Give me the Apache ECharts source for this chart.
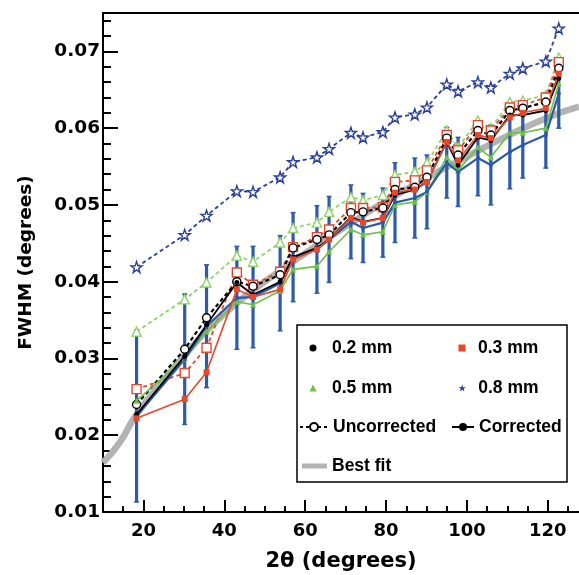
<!DOCTYPE html>
<html><head><meta charset="utf-8">
<script src="https://cdn.jsdelivr.net/npm/echarts@6/dist/echarts.min.js"></script>
<style>html,body{margin:0;padding:0;background:#fff}#c{width:579px;height:575px}</style>
</head><body><div id="c"></div>
<script>
// ---- data ----
const twoTheta = [18.3, 30.2, 35.6, 43.1, 47.1, 53.8, 57.0, 62.9, 65.9, 71.3, 74.3, 79.2, 82.2, 87.1, 90.1, 95.0, 97.8, 102.7, 105.9, 110.6, 113.8, 119.5, 122.7];
const unc08 = [0.0419, 0.0461, 0.0486, 0.0518, 0.0517, 0.0536, 0.0556, 0.0562, 0.0573, 0.0594, 0.0588, 0.0595, 0.0614, 0.0618, 0.0627, 0.0657, 0.0648, 0.0660, 0.0653, 0.0671, 0.0678, 0.0687, 0.0730];
const unc05 = [0.0335, 0.0377, 0.0399, 0.0434, 0.0426, 0.0451, 0.0470, 0.0477, 0.0491, 0.0510, 0.0506, 0.0513, 0.0539, 0.0543, 0.0555, 0.0597, 0.0575, 0.0610, 0.0600, 0.0634, 0.0636, 0.0643, 0.0692];
const unc03 = [0.0260, 0.0281, 0.0314, 0.0412, 0.0396, 0.0413, 0.0445, 0.0458, 0.0468, 0.0496, 0.0496, 0.0497, 0.0530, 0.0532, 0.0545, 0.0591, 0.0571, 0.0604, 0.0597, 0.0627, 0.0630, 0.0640, 0.0686];
const unc02 = [0.0240, 0.0312, 0.0353, 0.0400, 0.0394, 0.0409, 0.0444, 0.0455, 0.0461, 0.0490, 0.0491, 0.0496, 0.0520, 0.0523, 0.0536, 0.0587, 0.0565, 0.0597, 0.0591, 0.0623, 0.0626, 0.0634, 0.0678];
const corr02 = [0.0227, 0.0303, 0.0344, 0.0399, 0.0383, 0.0400, 0.0432, 0.0444, 0.0455, 0.0484, 0.0478, 0.0483, 0.0513, 0.0520, 0.0530, 0.0582, 0.0552, 0.0588, 0.0584, 0.0617, 0.0617, 0.0623, 0.0665];
const corr03 = [0.0222, 0.0247, 0.0282, 0.0390, 0.0380, 0.0390, 0.0429, 0.0442, 0.0455, 0.0483, 0.0477, 0.0483, 0.0516, 0.0520, 0.0530, 0.0582, 0.0558, 0.0591, 0.0587, 0.0614, 0.0620, 0.0626, 0.0671];
const corr05 = [0.0245, 0.0300, 0.0335, 0.0374, 0.0370, 0.0388, 0.0416, 0.0420, 0.0439, 0.0468, 0.0461, 0.0465, 0.0500, 0.0504, 0.0517, 0.0562, 0.0545, 0.0575, 0.0562, 0.0594, 0.0594, 0.0600, 0.0658];
const corr08 = [0.0225, 0.0299, 0.0342, 0.0379, 0.0380, 0.0398, 0.0432, 0.0442, 0.0455, 0.0478, 0.0470, 0.0477, 0.0503, 0.0509, 0.0517, 0.0555, 0.0543, 0.0561, 0.0552, 0.0569, 0.0578, 0.0591, 0.0645];
const err08 = [0.0112, 0.0085, 0.0080, 0.0067, 0.0066, 0.0062, 0.0058, 0.0057, 0.0056, 0.0048, 0.0045, 0.0045, 0.0052, 0.0052, 0.0048, 0.0046, 0.0045, 0.0049, 0.0052, 0.0048, 0.0043, 0.0043, 0.0045];
const fitX = [10, 14.2, 18, 25, 30, 36, 43, 50, 60, 70, 80, 90, 100, 110, 120, 127.7];
const fitY = [0.0164, 0.0191, 0.0225, 0.0272, 0.0303, 0.0338, 0.0372, 0.0400, 0.0437, 0.0472, 0.0505, 0.0535, 0.0563, 0.0590, 0.0614, 0.0628];
const xMajorTicks = [20, 40, 60, 80, 100, 120];
const xMinorTicks = [15, 25, 30, 35, 45, 50, 55, 65, 70, 75, 85, 90, 95, 105, 110, 115, 125];
const legendNames = ['0.2 mm', '0.3 mm', '0.5 mm', '0.8 mm', 'Uncorrected', 'Corrected', 'Best fit'];

// ---- styles ----
const BLACK = '#000', RED = '#e8472b', GREEN = '#6dbf45', LGREEN = '#8fd36a', BLUE = '#2b58a8', EBLUE = '#2f5aa6', DBLUE = '#2a3f96', GRAY = '#b3b3b3';
const STAR = 'path://M50,0 L61.8,35.1 L98.1,35.1 L68.7,56.8 L79.4,90.9 L50,69.1 L20.6,90.9 L31.3,56.8 L1.9,35.1 L38.2,35.1 Z';
const SQUARE = 'path://M0,0 L10,0 L10,10 L0,10 Z';
const TRIANGLE = 'path://M5,0 L10,10 L0,10 Z';
const AX_FONT = 'DejaVu Sans';
const LG_FONT = 'Liberation Sans';
const pts = ys => twoTheta.map((x, i) => [x, ys[i]]);

function line(name, ys, color, dashed, symbol, size, filled, width, z) {
  return {
    type: 'line', name: name, data: pts(ys), z: z || 3,
    symbol: symbol, symbolSize: size, showSymbol: true,
    lineStyle: { color: color, width: width, type: dashed ? [4, 3] : 'solid' },
    itemStyle: filled ? { color: color } : { color: '#fff', borderColor: color, borderWidth: 1.4 },
    emphasis: { disabled: true }, animation: false
  };
}

const series = [
  { type: 'line', name: 'fit', data: fitX.map((x, i) => [x, fitY[i]]), smooth: true, symbol: 'none',
    lineStyle: { color: GRAY, width: 6.5 }, z: 1, animation: false, emphasis: { disabled: true } },
  { type: 'custom', name: 'err', z: 2, animation: false,
    data: twoTheta.map((x, i) => [x, corr08[i] - err08[i], corr08[i] + err08[i]]),
    encode: { x: 0, y: [1, 2] },
    renderItem: function (params, api) {
      const x = api.value(0);
      const p1 = api.coord([x, api.value(1)]);
      const p2 = api.coord([x, api.value(2)]);
      const c = 2.5;
      return { type: 'group', children: [
        { type: 'line', shape: { x1: p1[0], y1: p1[1], x2: p2[0], y2: p2[1] }, style: { stroke: EBLUE, lineWidth: 3.2 } },
        { type: 'line', shape: { x1: p1[0] - c, y1: p1[1], x2: p1[0] + c, y2: p1[1] }, style: { stroke: EBLUE, lineWidth: 1.5 } },
        { type: 'line', shape: { x1: p2[0] - c, y1: p2[1], x2: p2[0] + c, y2: p2[1] }, style: { stroke: EBLUE, lineWidth: 1.5 } }
      ] };
    } },
  line('u05', unc05, LGREEN, true, 'triangle', 9, false, 1.8),
  line('u03', unc03, RED, true, 'rect', 9, false, 1.8),
  line('u02', unc02, BLACK, true, 'circle', 8, false, 2.2),
  line('c05', corr05, GREEN, false, 'triangle', 6, true, 1.6),
  line('c08', corr08, BLUE, false, 'circle', 4, true, 2.2),
  line('c02', corr02, BLACK, false, 'circle', 5, true, 1.8),
  line('c03', corr03, RED, false, 'rect', 6, true, 1.6),
  line('u08', unc08, DBLUE, true, STAR, 11, false, 1.8),
  // legend-only entries
  { type: 'line', name: legendNames[0], data: [], symbol: 'circle', itemStyle: { color: BLACK }, lineStyle: { color: BLACK } },
  { type: 'line', name: legendNames[1], data: [], symbol: 'rect', itemStyle: { color: RED }, lineStyle: { color: RED } },
  { type: 'line', name: legendNames[2], data: [], symbol: 'triangle', itemStyle: { color: GREEN }, lineStyle: { color: GREEN } },
  { type: 'line', name: legendNames[3], data: [], symbol: STAR, itemStyle: { color: DBLUE }, lineStyle: { color: DBLUE } },
  { type: 'line', name: legendNames[4], data: [], symbol: 'circle', itemStyle: { color: '#fff', borderColor: BLACK, borderWidth: 1.3 }, lineStyle: { color: BLACK, width: 1.3, type: [3, 3] } },
  { type: 'line', name: legendNames[5], data: [], symbol: 'circle', itemStyle: { color: BLACK }, lineStyle: { color: BLACK, width: 1.5 } },
  { type: 'line', name: legendNames[6], data: [], symbol: 'none', itemStyle: { color: GRAY }, lineStyle: { color: GRAY, width: 5 } }
];

const lgText = { fontFamily: LG_FONT, fontWeight: 'bold', fontSize: 17.5, color: '#000' };
// left = left edge of the drawn icon (legend is positioned by its bounding box)
function lg(name, left, cy, w, h, icon) {
  const d = { name: name };
  if (icon) d.icon = icon;
  return { data: [d], left: left, top: cy - 8, itemWidth: w, itemHeight: h, padding: 0,
           selectedMode: false, textStyle: lgText, z: 20, orient: 'horizontal' };
}

const axisName = { fontFamily: AX_FONT, fontWeight: 'bold', color: '#000' };
const option = {
  backgroundColor: '#fff',
  animation: false,
  grid: { left: 103, right: 0, top: 13, bottom: 63, containLabel: false, outerBoundsMode: 'none' },
  xAxis: [
    { type: 'value', min: 10, max: 127.7, position: 'bottom',
      axisLine: { show: true, lineStyle: { color: '#000', width: 2 } },
      axisTick: { show: true, inside: true, length: 12, customValues: xMajorTicks, lineStyle: { color: '#000', width: 2 } },
      axisLabel: { customValues: xMajorTicks, fontFamily: AX_FONT, fontWeight: 'bold', fontSize: 18, color: '#000', margin: 10 },
      splitLine: { show: false },
      name: '2θ (degrees)', nameLocation: 'middle', nameGap: 39,
      nameTextStyle: Object.assign({ fontSize: 21 }, axisName) },
    { type: 'value', min: 10, max: 127.7, position: 'bottom',
      axisLine: { show: false },
      axisTick: { show: true, inside: true, length: 6, customValues: xMinorTicks, lineStyle: { color: '#000', width: 2 } },
      axisLabel: { show: false }, splitLine: { show: false } },
    { type: 'value', min: 10, max: 127.7, position: 'top',
      axisLine: { show: true, lineStyle: { color: '#000', width: 2 } },
      axisTick: { show: false }, axisLabel: { show: false }, splitLine: { show: false } }
  ],
  yAxis: {
    type: 'value', min: 0.01, max: 0.075, interval: 0.01,
    axisLine: { show: true, lineStyle: { color: '#000', width: 2 } },
    axisTick: { show: true, inside: true, length: 15, lineStyle: { color: '#000', width: 2 } },
    minorTick: { show: true, splitNumber: 5, length: 8, lineStyle: { color: '#000', width: 2 } },
    axisLabel: { formatter: v => v.toFixed(2), showMaxLabel: false, fontFamily: AX_FONT, fontWeight: 'bold', fontSize: 18.5, color: '#000', margin: 3 },
    splitLine: { show: false }, minorSplitLine: { show: false },
    name: 'FWHM (degrees)', nameLocation: 'middle', nameGap: 67,
    nameTextStyle: Object.assign({ fontSize: 18.5 }, axisName)
  },
  legend: [
    lg(legendNames[0], 313 - 3.5, 347, 28, 7, 'circle'),
    lg(legendNames[1], 462 - 3.5, 347, 22, 7, SQUARE),
    lg(legendNames[2], 313 - 3.5, 387, 28, 7, TRIANGLE),
    lg(legendNames[3], 462 - 3.5, 387, 22, 7, STAR),
    lg(legendNames[4], 299, 426, 28, 10, null),
    lg(legendNames[5], 451, 426, 22, 10, null),
    lg(legendNames[6], 302, 465, 25, 5, 'rect')
  ],
  graphic: [
    { type: 'rect', shape: { x: 297, y: 325, width: 270, height: 157 },
      style: { fill: '#fff', stroke: '#000', lineWidth: 1.5 }, z: 10 }
  ],
  series: series
};
const chart = echarts.init(document.getElementById('c'));
chart.setOption(option);
</script>
</body></html>
